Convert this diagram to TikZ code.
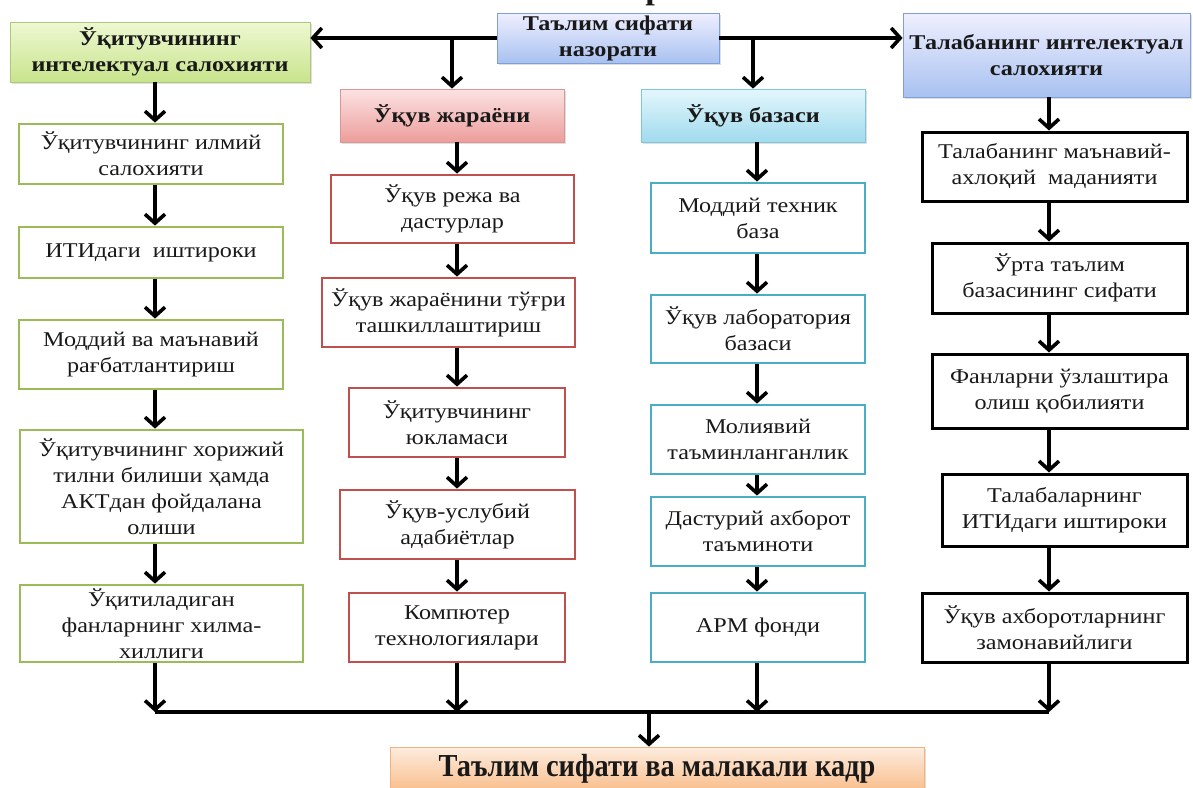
\documentclass[tikz,border=0pt]{standalone}
\usepackage{fontspec}
\setmainfont{Liberation Serif}[FakeStretch=1.15]
\usetikzlibrary{arrows.meta,shadows,calc}
\definecolor{gr}{HTML}{9BBB59}
\definecolor{rd}{HTML}{C0504D}
\definecolor{cy}{HTML}{4BACC6}
\definecolor{bl}{HTML}{7E9FD8}
\definecolor{orb}{HTML}{F6B27E}
\begin{document}
\begin{tikzpicture}[x=1pt,y=-1pt,
  every node/.style={font=\fontsize{21}{26}\selectfont, align=center, inner sep=2pt, text=black!90},
  hd/.style={font=\bfseries\fontsize{21}{26}\selectfont},
  arr/.style={line width=3.6pt,-{Straight Barb[length=9pt,width=20pt]}},
  busline/.style={line width=3.6pt},
  shad/.style={drop shadow={opacity=0.25,shadow xshift=2pt,shadow yshift=-2pt}},
  gbox/.style={draw=gr, line width=2.8pt, fill=white},
  rbox/.style={draw=rd, line width=2.8pt, fill=white},
  cbox/.style={draw=cy, line width=2.8pt, fill=white},
  kbox/.style={draw=black, line width=3pt, fill=white},
  tophd/.style={hd, shad, draw=bl, line width=0.8pt, top color=blue!6!white, bottom color={rgb,255:red,168;green,193;blue,240}},
  ghd/.style={hd, shad, draw=gr!80, line width=0.8pt, top color={rgb,255:red,238;green,248;blue,210}, bottom color={rgb,255:red,200;green,228;blue,140}},
  rhd/.style={hd, shad, draw=rd!60, line width=0.8pt, top color={rgb,255:red,252;green,226;blue,226}, bottom color={rgb,255:red,236;green,158;blue,156}},
  chd/.style={hd, shad, draw=cy!70, line width=0.8pt, top color={rgb,255:red,228;green,247;blue,252}, bottom color={rgb,255:red,160;green,218;blue,238}},
  fhd/.style={shad, draw=orb, line width=0.8pt, top color={rgb,255:red,253;green,236;blue,222}, bottom color={rgb,255:red,249;green,190;blue,140}}
]
\useasboundingbox (0,0) rectangle (1193,787);
\fill[white] (0,0) rectangle (1193,787);

% cut-off title fragment
\node[font=\bfseries\fontsize{30}{30}\selectfont, anchor=base, inner sep=0pt] (ttl) at (655,-1) {р};

% column coordinates
\coordinate (colG) at (155,0);
\coordinate (colR) at (457,0);
\coordinate (colC) at (757,0);
\coordinate (colK) at (1049,0);
\coordinate (busc) at (649,712);

% headers
\node[tophd, minimum width=222, minimum height=50] (top) at (608,38) {Таълим сифати\\назорати};
\node[ghd, minimum width=300, minimum height=60] (gh) at (160,52) {Ўқитувчининг\\интелектуал салохияти};
\node[tophd, minimum width=287, minimum height=84] (bh) at (1046.5,55) {Талабанинг интелектуал\\салохияти};
\node[rhd, minimum width=224, minimum height=53] (r0) at (452,115.5) {Ўқув жараёни};
\node[chd, minimum width=224, minimum height=53] (c0) at (753,115.5) {Ўқув базаси};

% green column
\node[gbox, minimum width=264, minimum height=60] (g1) at (151,154) {Ўқитувчининг илмий\\салохияти};
\node[gbox, minimum width=264, minimum height=51] (g2) at (151,252.5) {ИТИдаги~ иштироки};
\node[gbox, minimum width=264, minimum height=69] (g3) at (151,354.5) {Моддий ва маънавий\\рағбатлантириш};
\node[gbox, minimum width=283, minimum height=113] (g4) at (161.5,486.5) {Ўқитувчининг хорижий\\тилни билиши ҳамда\\АКТдан фойдалана\\олиши};
\node[gbox, minimum width=283, minimum height=77] (g5) at (161.5,623.5) {Ўқитиладиган\\фанларнинг хилма-\\хиллиги};

% red column
\node[rbox, minimum width=243, minimum height=68] (r1) at (452.5,209) {Ўқув режа ва\\дастурлар};
\node[rbox, minimum width=253, minimum height=69] (r2) at (448.5,312.5) {Ўқув жараёнини тўғри\\ташкиллаштириш};
\node[rbox, minimum width=216, minimum height=69] (r3) at (457,422.5) {Ўқитувчининг\\юкламаси};
\node[rbox, minimum width=235, minimum height=69] (r4) at (457.5,524.5) {Ўқув-услубий\\адабиётлар};
\node[rbox, minimum width=216, minimum height=69] (r5) at (457,627.5) {Компютер\\технологиялари};

% cyan column
\node[cbox, minimum width=214, minimum height=70] (c1) at (758,218) {Моддий техник\\база};
\node[cbox, minimum width=214, minimum height=68] (c2) at (758,329) {Ўқув лаборатория\\базаси};
\node[cbox, minimum width=214, minimum height=69] (c3) at (758,439.5) {Молиявий\\таъминланганлик};
\node[cbox, minimum width=214, minimum height=69] (c4) at (758,531.5) {Дастурий ахборот\\таъминоти};
\node[cbox, minimum width=214, minimum height=69] (c5) at (758,627.5) {АРМ фонди};

% black column
\node[kbox, minimum width=265, minimum height=69] (k1) at (1054.5,166.5) {Талабанинг маънавий-\\ахлоқий~ маданияти};
\node[kbox, minimum width=255, minimum height=70] (k2) at (1059.5,278) {Ўрта таълим\\базасининг сифати};
\node[kbox, minimum width=255, minimum height=74] (k3) at (1059.5,391) {Фанларни ўзлаштира\\олиш қобилияти};
\node[kbox, minimum width=245, minimum height=72] (k4) at (1064.5,510) {Талабаларнинг\\ИТИдаги иштироки};
\node[kbox, minimum width=265, minimum height=69] (k5) at (1054.5,627.5) {Ўқув ахборотларнинг\\замонавийлиги};

% final box
\node[fhd, minimum width=534, minimum height=44, font=\bfseries\fontsize{32}{34}\selectfont] (fin) at (657,769) {\scalebox{0.77}[1]{Таълим сифати ва малакали кадр}};

% top connectors
\draw[arr] (top.west) -- (top.west -| gh.east);
\draw[arr] (top.east) -- (top.east -| bh.west);
\draw[arr] (top.west -| r0.north) -- (r0.north);
\draw[arr] (top.east -| c0.north) -- (c0.north);

% green arrows
\draw[arr] (gh.south -| colG) -- (g1.north -| colG);
\draw[arr] (g1.south -| colG) -- (g2.north -| colG);
\draw[arr] (g2.south -| colG) -- (g3.north -| colG);
\draw[arr] (g3.south -| colG) -- (g4.north -| colG);
\draw[arr] (g4.south -| colG) -- (g5.north -| colG);
% red arrows
\draw[arr] (r0.south -| colR) -- (r1.north -| colR);
\draw[arr] (r1.south -| colR) -- (r2.north -| colR);
\draw[arr] (r2.south -| colR) -- (r3.north -| colR);
\draw[arr] (r3.south -| colR) -- (r4.north -| colR);
\draw[arr] (r4.south -| colR) -- (r5.north -| colR);
% cyan arrows
\draw[arr] (c0.south -| colC) -- (c1.north -| colC);
\draw[arr] (c1.south -| colC) -- (c2.north -| colC);
\draw[arr] (c2.south -| colC) -- (c3.north -| colC);
\draw[arr] (c3.south -| colC) -- (c4.north -| colC);
\draw[arr] (c4.south -| colC) -- (c5.north -| colC);
% black arrows
\draw[arr] (bh.south -| colK) -- (k1.north -| colK);
\draw[arr] (k1.south -| colK) -- (k2.north -| colK);
\draw[arr] (k2.south -| colK) -- (k3.north -| colK);
\draw[arr] (k3.south -| colK) -- (k4.north -| colK);
\draw[arr] (k4.south -| colK) -- (k5.north -| colK);

% bottom bus
\draw[arr] (g5.south -| colG) -- (busc -| colG);
\draw[arr] (r5.south -| colR) -- (busc -| colR);
\draw[arr] (c5.south -| colC) -- (busc -| colC);
\draw[arr] (k5.south -| colK) -- (busc -| colK);
\draw[busline] (busc -| colG) -- (busc -| colK);
\draw[arr] (busc) -- (busc |- fin.north);
\end{tikzpicture}
\end{document}
